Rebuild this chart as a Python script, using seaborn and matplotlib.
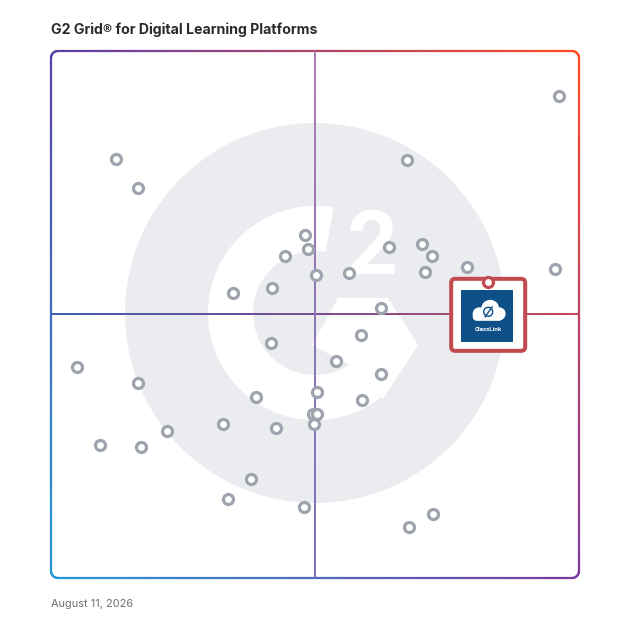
import numpy as np
import matplotlib
matplotlib.use("Agg")
import matplotlib.pyplot as plt
import matplotlib.transforms as mtransforms
from matplotlib.patches import Circle, Wedge, Polygon, FancyBboxPatch
from matplotlib.collections import LineCollection
from matplotlib.lines import Line2D
from matplotlib.colors import to_rgb, LinearSegmentedColormap
import seaborn as sns

# ---------------- data ----------------
title = "G2 Grid® for Digital Learning Platforms"
date_label = "August 11, 2026"
satisfaction = [96.2, 12.3, 67.4, 16.5, 48.1, 48.7, 64.0, 70.3, 72.2, 44.3,
                78.8, 95.5, 56.4, 50.2, 70.8, 34.5, 41.9, 62.5, 58.7, 41.7,
                4.9, 54.0, 62.5, 16.5, 50.4, 38.8, 58.9, 49.6, 50.4, 49.8,
                32.6, 42.6, 22.0, 9.3, 17.0, 37.9, 33.5, 47.9, 72.3, 67.8]
market_presence = [91.5, 79.5, 79.3, 74.0, 65.1, 62.4, 62.8, 63.4, 61.1, 61.1,
                   59.0, 58.6, 57.9, 57.5, 58.1, 54.1, 55.0, 51.2, 46.1, 44.6,
                   40.0, 41.2, 38.7, 37.0, 35.3, 34.3, 33.8, 31.1, 31.1, 29.2,
                   29.2, 28.5, 27.9, 25.2, 24.9, 18.8, 15.0, 13.5, 12.1, 9.7]
highlight_name = "ClassLink"
highlight_x = [82.8]
highlight_y = [56.2]

W = H = 628
fig = plt.figure(figsize=(W / 100, H / 100), dpi=100)
fig.patch.set_facecolor("white")

# background axes in pixel coords (y up)
bg = fig.add_axes([0, 0, 1, 1], zorder=0)
bg.set_xlim(0, W)
bg.set_ylim(0, H)
bg.axis("off")

def Y(y):
    return H - y

# G2 watermark
bg.add_patch(Circle((315, Y(313)), 190, color="#eaecef", lw=0))
bg.add_patch(Wedge((315, Y(313)), 107, 80, 308, width=45, color="white", lw=0))
chev = [(338, 298), (388, 298), (418, 345), (383, 399), (350, 365), (312, 345)]
bg.add_patch(Polygon([(x, Y(y)) for x, y in chev], closed=True, color="white", lw=0))
bg.text(372, Y(249), "2", color="white", fontsize=64, fontweight="bold",
        family="Roboto", ha="center", va="center")

# gradient border
x0, x1, yt, yb, r = 51, 579, 51, 578, 7
pts = []
def arc(cx, cy, a0, a1, n=12):
    for a in np.linspace(np.radians(a0), np.radians(a1), n):
        pts.append((cx + r * np.cos(a), cy + r * np.sin(a)))
def seg(p, q, n=80):
    for t in np.linspace(0, 1, n):
        pts.append((p[0] + (q[0] - p[0]) * t, p[1] + (q[1] - p[1]) * t))
seg((x0 + r, yt), (x1 - r, yt))
arc(x1 - r, yt + r, -90, 0)
seg((x1, yt + r), (x1, yb - r))
arc(x1 - r, yb - r, 0, 90)
seg((x1 - r, yb), (x0 + r, yb))
arc(x0 + r, yb - r, 90, 180)
seg((x0, yb - r), (x0, yt + r))
arc(x0 + r, yt + r, 180, 270)
pts = np.array(pts)
TL, TR = np.array(to_rgb("#5a3fae")), np.array(to_rgb("#ff4a22"))
BL, BR = np.array(to_rgb("#2598d8")), np.array(to_rgb("#7b3aa0"))
segs, cols = [], []
for i in range(len(pts) - 1):
    a, b = pts[i], pts[i + 1]
    m = (a + b) / 2
    u = (m[0] - x0) / (x1 - x0)
    v = (m[1] - yt) / (yb - yt)
    c = (1 - u) * (1 - v) * TL + u * (1 - v) * TR + (1 - u) * v * BL + u * v * BR
    segs.append([(a[0], Y(a[1])), (b[0], Y(b[1]))])
    cols.append(np.clip(c, 0, 1))
bg.add_collection(LineCollection(segs, colors=cols, linewidths=1.6, capstyle="round"))

# main axes
ax = fig.add_axes([51 / W, (H - 578) / H, 528 / W, 527 / H], zorder=1)
ax.patch.set_alpha(0)

# quadrant lines with gradients (thin gradient strips)
hcm = LinearSegmentedColormap.from_list("h", ["#4160b4", "#7a4f94", "#c8485a"])
vcm = LinearSegmentedColormap.from_list("v", ["#7f70c2", "#8f76b8", "#b07cb2"])
grad = np.linspace(0, 1, 256)
ax.imshow(grad[None, :], cmap=hcm, extent=(0, 100, 49.87, 50.13),
          aspect="auto", interpolation="bilinear", zorder=1)
ax.imshow(grad[:, None], cmap=vcm, extent=(49.88, 50.12, 0, 100), origin="lower",
          aspect="auto", interpolation="bilinear", zorder=1)
ax.set_xlim(0, 100)
ax.set_ylim(0, 100)
ax.axis("off")

sns.scatterplot(x=satisfaction, y=market_presence, ax=ax, s=52, color="white",
                edgecolor="#9ea3ad", linewidth=2.3, zorder=3, legend=False)
ax.set_xlim(0, 100)
ax.set_ylim(0, 100)

# highlighted product box (display pixel coords around the data point)
fig.canvas.draw()
px, py = ax.transData.transform((highlight_x[0], highlight_y[0]))
ident = mtransforms.IdentityTransform()
red = "#c24b50"
box = FancyBboxPatch((px - 37, py - 69), 74, 72,
                     boxstyle="round,pad=0,rounding_size=4",
                     facecolor="white", edgecolor=red, linewidth=2.9,
                     transform=ident, clip_on=False, zorder=4)
ax.add_artist(box)
cx, cy = px - 1, py - 34
blue = "#0e4f88"
sq = FancyBboxPatch((cx - 26, cy - 26), 52, 52, boxstyle="square,pad=0",
                    facecolor=blue, edgecolor="none", transform=ident,
                    clip_on=False, zorder=5)
ax.add_artist(sq)
# cloud
for (dx, dy, rr) in [(3, 7, 9), (-8, 2, 6.5), (12, 2, 6.5)]:
    ax.add_artist(Circle((cx + dx, cy + dy), rr, facecolor="white", edgecolor="none",
                         transform=ident, clip_on=False, zorder=6))
ax.add_artist(FancyBboxPatch((cx - 14.5, cy - 5), 30, 9,
                             boxstyle="round,pad=0,rounding_size=4.5",
                             facecolor="white", edgecolor="none", transform=ident,
                             clip_on=False, zorder=6))
ax.add_artist(Circle((cx + 1, cy + 4), 4.5, facecolor="none", edgecolor=blue, lw=1.0,
                     transform=ident, clip_on=False, zorder=7))
ax.add_artist(Line2D([cx - 2, cx + 5], [cy - 1, cy + 9], color=blue, lw=1.0,
                     transform=ident, clip_on=False, zorder=8))
ax.text(cx + 1, cy - 14, highlight_name, color="white", fontsize=4.5,
        fontweight="bold", ha="center", va="center", transform=ident, zorder=7,
        family="Roboto")

sns.scatterplot(x=highlight_x, y=highlight_y, ax=ax, s=52, color="white",
                edgecolor=red, linewidth=2.3, zorder=9, legend=False)
ax.collections[-1].set_clip_on(False)
ax.set_xlim(0, 100)
ax.set_ylim(0, 100)

# texts
fig.text(51 / W, 1 - 30 / H, title, fontsize=10.2, fontweight="bold",
         color="#2b2b2b", family="Inter", ha="left", va="center")
fig.text(51 / W, 1 - 604 / H, date_label, fontsize=7.9, color="#6f6f6f",
         family="Inter", ha="left", va="center")

fig.savefig("out.png", dpi=100, facecolor="white")
